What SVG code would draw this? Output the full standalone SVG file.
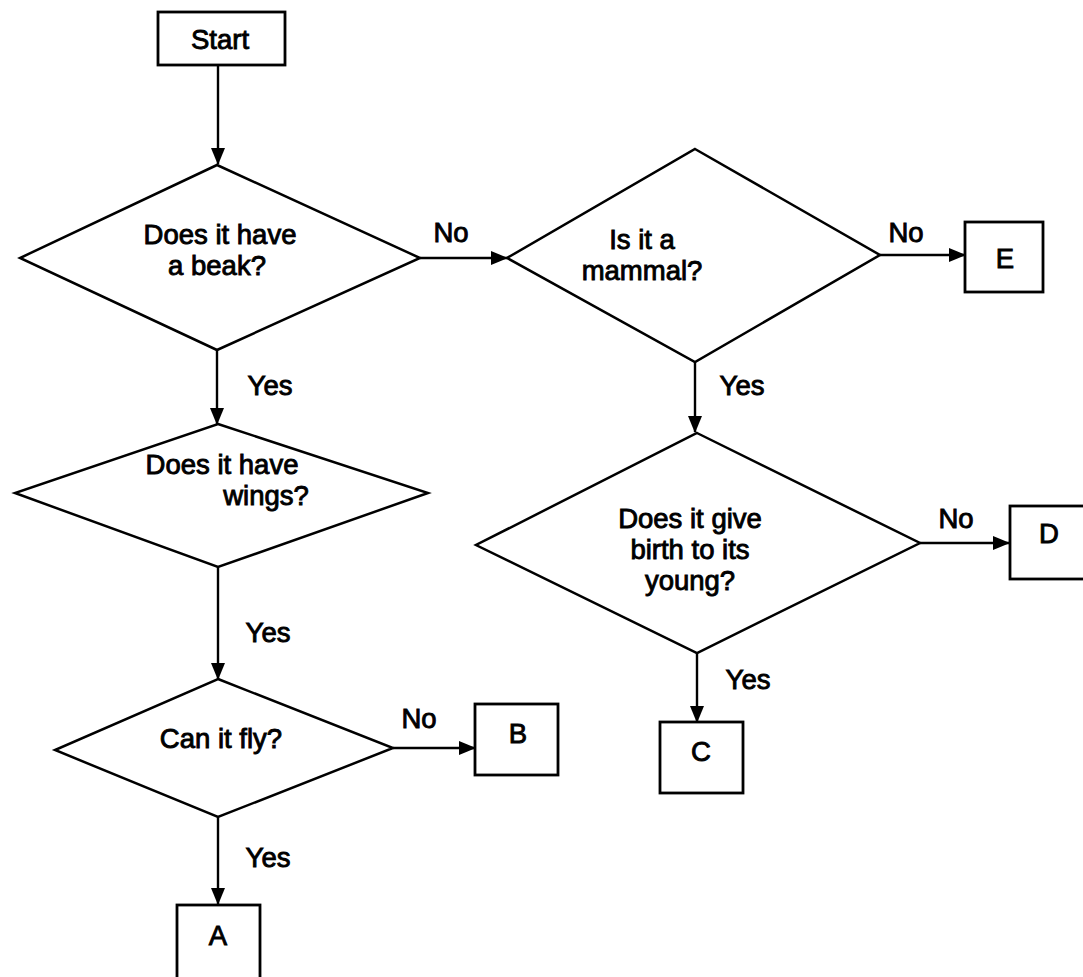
<svg xmlns="http://www.w3.org/2000/svg" width="1083" height="977" viewBox="0 0 1083 977">
<style>
.shape{fill:#fff;stroke:#000;stroke-width:2.5}
.box{fill:#fff;stroke:#000;stroke-width:2.8}
.conn{fill:none;stroke:#000;stroke-width:2.4}
.t{font-family:"Liberation Sans",Arial,sans-serif;font-size:27.5px;fill:#000;stroke:#000;stroke-width:0.9;text-anchor:middle}
</style>
<defs>
<marker id="ah" markerWidth="17" markerHeight="14" refX="16" refY="7" orient="auto" markerUnits="userSpaceOnUse">
<path d="M0,0 L17,7 L0,14 Z" fill="#000"/>
</marker>
</defs>
<rect width="1083" height="977" fill="#fff"/>

<g id="connectors">
<line class="conn" x1="218" y1="65" x2="218" y2="164" marker-end="url(#ah)"/>
<line class="conn" x1="420" y1="258" x2="507" y2="258" marker-end="url(#ah)"/>
<line class="conn" x1="880" y1="255" x2="965" y2="255" marker-end="url(#ah)"/>
<line class="conn" x1="695" y1="362" x2="695" y2="432" marker-end="url(#ah)"/>
<line class="conn" x1="920" y1="543" x2="1009" y2="543" marker-end="url(#ah)"/>
<line class="conn" x1="697" y1="653" x2="697" y2="722" marker-end="url(#ah)"/>
<line class="conn" x1="217" y1="350" x2="217" y2="424" marker-end="url(#ah)"/>
<line class="conn" x1="218" y1="567" x2="218" y2="679" marker-end="url(#ah)"/>
<line class="conn" x1="393" y1="748" x2="475" y2="748" marker-end="url(#ah)"/>
<line class="conn" x1="218" y1="817" x2="218" y2="904" marker-end="url(#ah)"/>
<text class="t" x="451" y="242">No</text>
<text class="t" x="906" y="242">No</text>
<text class="t" x="742" y="395">Yes</text>
<text class="t" x="956" y="528">No</text>
<text class="t" x="748" y="689">Yes</text>
<text class="t" x="270" y="395">Yes</text>
<text class="t" x="268" y="642">Yes</text>
<text class="t" x="419" y="728">No</text>
<text class="t" x="268" y="867">Yes</text>
</g>

<g id="start">
<rect class="box" x="158" y="12" width="127" height="53"/>
<text class="t" x="220" y="49">Start</text>
</g>

<g id="q-beak">
<polygon class="shape" points="217,165 420,258 217,350 20,258"/>
<text class="t" x="220" y="244">Does it have</text>
<text class="t" x="217" y="275">a beak?</text>
</g>

<g id="q-mammal">
<polygon class="shape" points="695,149 880,255 695,362 507,258"/>
<text class="t" x="642" y="249">Is it a</text>
<text class="t" x="642" y="280">mammal?</text>
</g>

<g id="box-e">
<rect class="box" x="965" y="222" width="78" height="70"/>
<text class="t" x="1005" y="268">E</text>
</g>

<g id="q-birth">
<polygon class="shape" points="697,433 920,543 697,653 476,545"/>
<text class="t" x="690" y="528">Does it give</text>
<text class="t" x="690" y="559">birth to its</text>
<text class="t" x="690" y="590">young?</text>
</g>

<g id="box-d">
<rect class="box" x="1010" y="506" width="80" height="73"/>
<text class="t" x="1049" y="543">D</text>
</g>

<g id="box-c">
<rect class="box" x="660" y="722" width="83" height="71"/>
<text class="t" x="701" y="761">C</text>
</g>

<g id="q-wings">
<polygon class="shape" points="218,424 428,493 218,567 15,493"/>
<text class="t" x="222" y="474">Does it have</text>
<text class="t" x="266" y="505">wings?</text>
</g>

<g id="q-fly">
<polygon class="shape" points="218,679 393,748 218,817 55,750"/>
<text class="t" x="221" y="748">Can it fly?</text>
</g>

<g id="box-b">
<rect class="box" x="475" y="704" width="83" height="71"/>
<text class="t" x="518" y="743">B</text>
</g>

<g id="box-a">
<rect class="box" x="177" y="905" width="83" height="80"/>
<text class="t" x="218" y="945">A</text>
</g>
</svg>
